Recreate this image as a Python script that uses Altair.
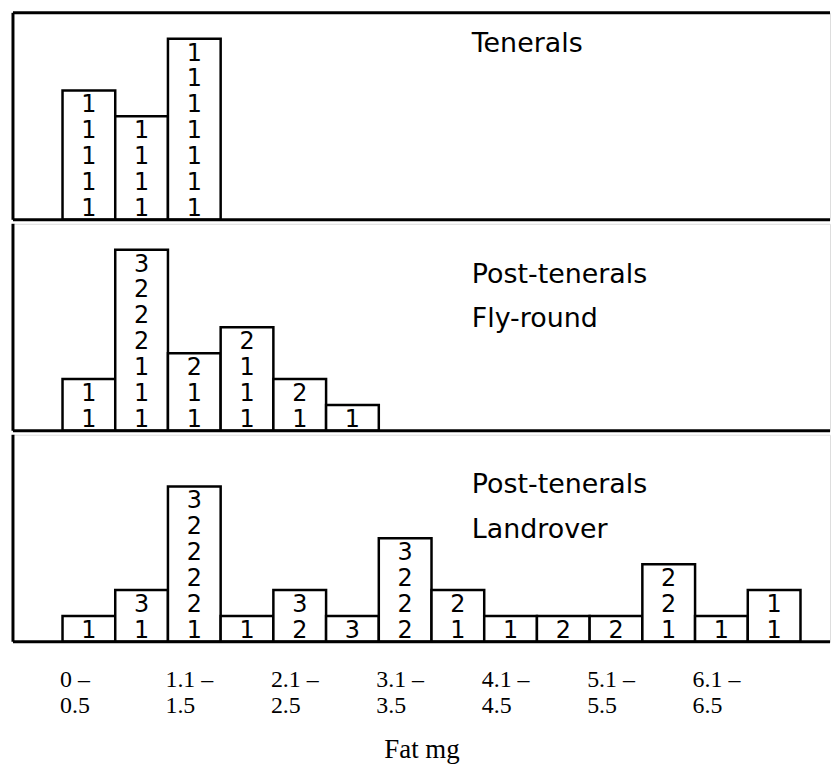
import altair as alt
import pandas as pd

# ---- data ----
# fat classes (mg), one bar per class
bin_labels = ["0–0.5", "0.6–1.0", "1.1–1.5", "1.6–2.0", "2.1–2.5", "2.6–3.0", "3.1–3.5",
              "3.6–4.0", "4.1–4.5", "4.6–5.0", "5.1–5.5", "5.6–6.0", "6.1–6.5", "6.6–7.0"]
tick_top = ["0 –", "1.1 –", "2.1 –", "3.1 –", "4.1 –", "5.1 –", "6.1 –"]
tick_bottom = ["0.5", "1.5", "2.5", "3.5", "4.5", "5.5", "6.5"]

# digits written inside each bar, listed bottom to top (one digit = one fly)
tenerals = ["11111", "1111", "1111111"]
flyround = ["11", "1112223", "112", "1112", "12", "1"]
landrover = ["1", "13", "122223", "1", "23", "3", "2223", "12", "1", "2", "2", "122", "1", "11"]

panel_titles = [["Tenerals"], ["Post-tenerals", "Fly-round"], ["Post-tenerals", "Landrover"]]
panel_codes = [tenerals, flyround, landrover]

# ---- layout ----
W, H = 821, 208
xscale = alt.Scale(domain=[-0.94, 14.56], nice=False, zero=False)
yscale = alt.Scale(domain=[0, 8], nice=False, zero=False)
HAND = "DejaVu Sans"
SERIF = "Liberation Serif"

label_expr = ""
for i, (a, b) in enumerate(zip(tick_top, tick_bottom)):
    label_expr += f"datum.value == {2 * i} ? ['{a}', '{b}'] : "
label_expr += "''"

one = pd.DataFrame({"a": [0]})


def panel(idx):
    codes = panel_codes[idx]
    bars = pd.DataFrame({
        "cls": bin_labels[:len(codes)],
        "start": list(range(len(codes))),
        "end": [i + 1 for i in range(len(codes))],
        "zero": [0] * len(codes),
        "count": [len(c) for c in codes],
    })
    rows = []
    for i, c in enumerate(codes):
        for k, d in enumerate(c):
            rows.append({"xc": i + 0.5, "yc": k + 0.5, "digit": d})
    digits = pd.DataFrame(rows)

    if idx == 2:
        xaxis = alt.Axis(values=[0, 2, 4, 6, 8, 10, 12], labelExpr=label_expr, ticks=False,
                         domain=False, grid=False, labelAlign="left", labelBaseline="top",
                         labelFont=SERIF, labelFontSize=24, labelColor="black",
                         labelLineHeight=26, labelPadding=26, labelOffset=-3,
                         labelOverlap=False, labelFlush=False,
                         title="Fat mg", titleFont=SERIF, titleFontSize=27,
                         titleFontWeight="normal", titleColor="black", titlePadding=19)
    else:
        xaxis = None

    bar_layer = alt.Chart(bars).mark_rect(fill="white", stroke="black", strokeWidth=2.5).encode(
        x=alt.X("start:Q", scale=xscale, axis=xaxis),
        x2="end:Q",
        y=alt.Y("zero:Q", scale=yscale, axis=None),
        y2="count:Q",
    )
    digit_layer = alt.Chart(digits).mark_text(font=HAND, fontSize=24, color="black",
                                              baseline="middle", align="center", dy=2).encode(
        x=alt.X("xc:Q", scale=xscale),
        y=alt.Y("yc:Q", scale=yscale),
        text="digit:N",
    )
    title_y = 39 if idx == 0 else 59
    title_layer = alt.Chart(one).mark_text(font=HAND, fontSize=27, color="black", align="left",
                                           baseline="alphabetic", lineHeight=45).encode(
        x=alt.value(461), y=alt.value(title_y),
        text=alt.value(panel_titles[idx]),
    )
    left = alt.Chart(one).mark_rule(color="black", strokeWidth=3).encode(
        x=alt.value(0), y=alt.value(0), y2=alt.value(H))
    bottom = alt.Chart(one).mark_rule(color="black", strokeWidth=3).encode(
        x=alt.value(0), x2=alt.value(W), y=alt.value(H))
    layers = [bar_layer, digit_layer, title_layer, left, bottom]
    if idx == 0:
        top = alt.Chart(one).mark_rule(color="black", strokeWidth=3).encode(
            x=alt.value(0), x2=alt.value(W), y=alt.value(0))
        layers.append(top)
    return alt.layer(*layers).properties(width=W, height=H)


chart = alt.vconcat(panel(0), panel(1), panel(2), spacing=0).properties(
    padding={"left": 3, "top": 1, "right": 0, "bottom": 0}
).configure_view(stroke=None).configure(background="white")

chart.save("out.html", embed_options={"renderer": "svg", "actions": False})
